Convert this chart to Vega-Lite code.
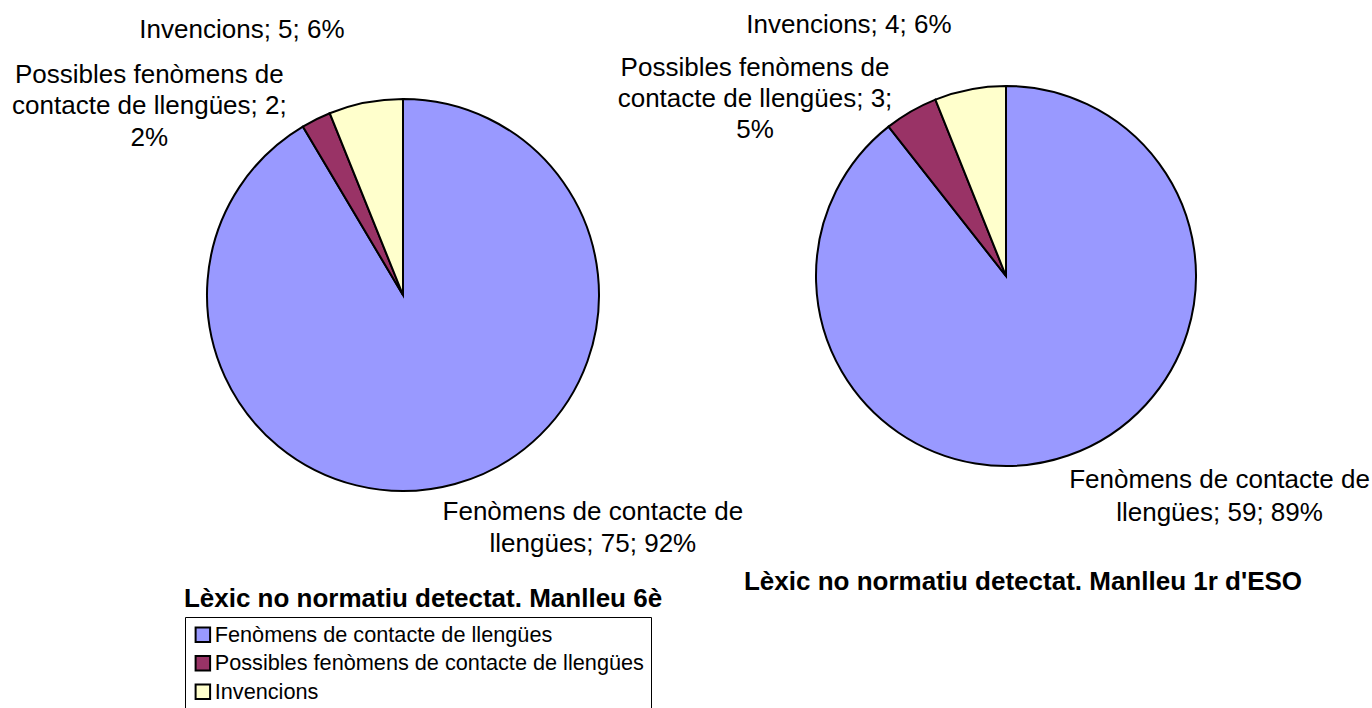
{
  "$schema": "https://vega.github.io/schema/vega-lite/v6.json",
  "padding": 0,
  "background": "white",
  "spacing": 0,
  "bounds": "flush",
  "config": {
    "view": {"stroke": null},
    "font": "Liberation Sans",
    "title": {"font": "Liberation Sans", "fontSize": 26, "fontWeight": "bold", "color": "black"},
    "text": {"font": "Liberation Sans", "fontSize": 26, "color": "black", "lineBreak": "\n"}
  },
  "datasets": {
    "d": [
      {"chart": "6è", "cat": "Fenòmens de contacte de llengües", "idx": 1, "value": 75, "label": "Fenòmens de contacte de\nllengües; 75; 92%"},
      {"chart": "6è", "cat": "Possibles fenòmens de contacte de llengües", "idx": 2, "value": 2, "label": "Possibles fenòmens de\ncontacte de llengües; 2;\n2%"},
      {"chart": "6è", "cat": "Invencions", "idx": 3, "value": 5, "label": "Invencions; 5; 6%"},
      {"chart": "1r", "cat": "Fenòmens de contacte de llengües", "idx": 1, "value": 59, "label": "Fenòmens de contacte de\nllengües; 59; 89%"},
      {"chart": "1r", "cat": "Possibles fenòmens de contacte de llengües", "idx": 2, "value": 3, "label": "Possibles fenòmens de\ncontacte de llengües; 3;\n5%"},
      {"chart": "1r", "cat": "Invencions", "idx": 3, "value": 4, "label": "Invencions; 4; 6%"}
    ]
  },
  "resolve": {"scale": {"color": "shared"}, "legend": {"color": "shared"}},
  "hconcat": [
    {
      "width": 806,
      "height": 590,
      "data": {"name": "d"},
      "transform": [{"filter": "datum.chart === '6è'"}],
      "title": {"text": "Lèxic no normatiu detectat. Manlleu 6è", "orient": "bottom", "anchor": "middle", "offset": -4, "dx": 20},
      "layer": [
        {
          "mark": {"type": "arc", "radius": 196, "stroke": "black", "strokeWidth": 2},
          "encoding": {
            "theta": {"field": "value", "type": "quantitative", "stack": true},
            "order": {"field": "idx", "type": "quantitative"},
            "color": {
              "field": "cat", "type": "nominal",
              "scale": {
                "domain": ["Fenòmens de contacte de llengües", "Possibles fenòmens de contacte de llengües", "Invencions"],
                "range": ["#9999FF", "#993366", "#FFFFCC"]
              },
              "legend": {
                "title": null, "orient": "none", "legendX": 185, "legendY": 617, "direction": "vertical",
                "symbolType": "square", "symbolSize": 210, "symbolStrokeColor": "black", "symbolStrokeWidth": 2,
                "labelFontSize": 21.7, "labelFont": "Liberation Sans", "labelColor": "black", "labelLimit": 700,
                "labelOffset": 1, "rowPadding": 4.5, "padding": 7, "strokeColor": "black", "fillColor": "white"
              }
            }
          }
        },
        {
          "mark": {"type": "text", "radius": 270, "align": "right", "baseline": "middle", "dx": -7},
          "encoding": {
            "theta": {"field": "value", "type": "quantitative", "stack": true},
            "order": {"field": "idx", "type": "quantitative"},
            "detail": {"field": "cat", "type": "nominal"},
            "text": {"condition": {"test": "datum.idx === 3", "field": "label"}, "value": ""}
          }
        },
        {
          "mark": {"type": "text", "radius": 211, "align": "center", "baseline": "middle", "dx": -160, "dy": -31, "lineHeight": 31.5},
          "encoding": {
            "theta": {"field": "value", "type": "quantitative", "stack": true},
            "order": {"field": "idx", "type": "quantitative"},
            "detail": {"field": "cat", "type": "nominal"},
            "text": {"condition": {"test": "datum.idx === 2", "field": "label"}, "value": ""}
          }
        },
        {
          "mark": {"type": "text", "radius": 241, "align": "center", "baseline": "middle", "dx": 126, "dy": -15, "lineHeight": 32},
          "encoding": {
            "theta": {"field": "value", "type": "quantitative", "stack": true},
            "order": {"field": "idx", "type": "quantitative"},
            "detail": {"field": "cat", "type": "nominal"},
            "text": {"condition": {"test": "datum.idx === 1", "field": "label"}, "value": ""}
          }
        }
      ]
    },
    {
      "width": 400,
      "height": 552,
      "data": {"name": "d"},
      "transform": [{"filter": "datum.chart === '1r'"}],
      "title": {"text": "Lèxic no normatiu detectat. Manlleu 1r d'ESO", "orient": "bottom", "anchor": "middle", "offset": 17, "dx": 17},
      "layer": [
        {
          "mark": {"type": "arc", "radius": 190, "stroke": "black", "strokeWidth": 2},
          "encoding": {
            "theta": {"field": "value", "type": "quantitative", "stack": true},
            "order": {"field": "idx", "type": "quantitative"},
            "color": {
              "field": "cat", "type": "nominal",
              "scale": {
                "domain": ["Fenòmens de contacte de llengües", "Possibles fenòmens de contacte de llengües", "Invencions"],
                "range": ["#9999FF", "#993366", "#FFFFCC"]
              }
            }
          }
        },
        {
          "mark": {"type": "text", "radius": 256, "align": "right", "baseline": "middle", "dx": -6},
          "encoding": {
            "theta": {"field": "value", "type": "quantitative", "stack": true},
            "order": {"field": "idx", "type": "quantitative"},
            "detail": {"field": "cat", "type": "nominal"},
            "text": {"condition": {"test": "datum.idx === 3", "field": "label"}, "value": ""}
          }
        },
        {
          "mark": {"type": "text", "radius": 204, "align": "center", "baseline": "middle", "dx": -149, "dy": -31, "lineHeight": 31},
          "encoding": {
            "theta": {"field": "value", "type": "quantitative", "stack": true},
            "order": {"field": "idx", "type": "quantitative"},
            "detail": {"field": "cat", "type": "nominal"},
            "text": {"condition": {"test": "datum.idx === 2", "field": "label"}, "value": ""}
          }
        },
        {
          "mark": {"type": "text", "radius": 234, "align": "center", "baseline": "middle", "dx": 137, "dy": -17, "lineHeight": 33},
          "encoding": {
            "theta": {"field": "value", "type": "quantitative", "stack": true},
            "order": {"field": "idx", "type": "quantitative"},
            "detail": {"field": "cat", "type": "nominal"},
            "text": {"condition": {"test": "datum.idx === 1", "field": "label"}, "value": ""}
          }
        }
      ]
    }
  ]
}
